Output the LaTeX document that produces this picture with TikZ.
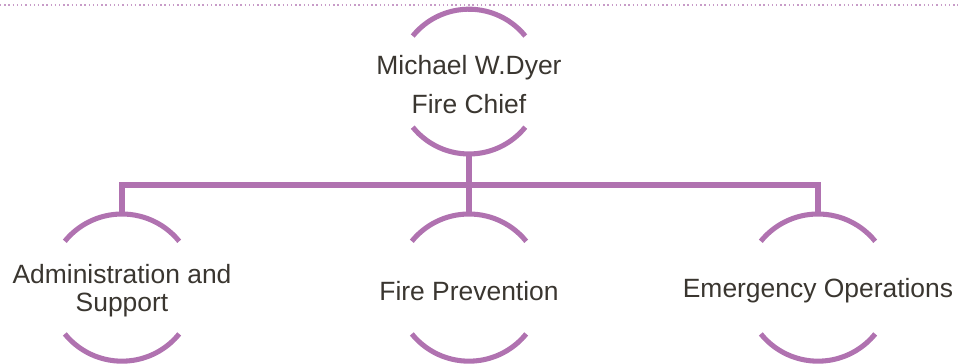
\documentclass[tikz,border=0pt]{standalone}
\usepackage{fontspec}
\setmainfont{Liberation Sans}
\usetikzlibrary{positioning,calc}
\definecolor{orchid}{HTML}{B072B0}
\definecolor{ink}{HTML}{3A3630}
\tikzset{
ring/.style={
circle,
minimum size=3.68cm,inner sep=0pt,outer sep=0pt},
caption/.style={align=center,text=ink,inner sep=0pt,yshift=-0.08cm},
link/.style={draw=orchid,line width=3.6pt},
font={\fontsize{18.8pt}{19.5pt}\selectfont}
}

\begin{document}
\begin{tikzpicture}
  \useasboundingbox (0,0) rectangle (23.95,9.1);
  \draw[orchid!70,line width=1pt,dotted] (0,8.975) -- (23.95,8.975);
  \node[ring,minimum size=3.62cm] (chief) at (11.725,7.06) {};
  \node[ring] (prev) at (11.725,1.91) {};
  \node[ring] (admin) at (3.05,1.91) {};
  \node[ring] (ops) at (20.45,1.91) {};
  \node[caption] (chieftxt) at (chief) {Michael W.Dyer\\[8pt]Fire Chief};
  \node[caption] (prevtxt) at (prev) {Fire Prevention};
  \node[caption] (admintxt) at (admin) {Administration and\\Support};
  \node[caption] (opstxt) at (ops) {Emergency Operations};
  % open arcs above and below each ring
  \foreach \n/\r in {chief/1.81,prev/1.84,admin/1.84,ops/1.84}{
    \draw[link] (\n.39) arc[start angle=39,end angle=141,radius=\r];
    \draw[link] (\n.219) arc[start angle=219,end angle=321,radius=\r];
  }
  \coordinate (bar) at (0,4.475);
  \draw[link] (admin.north) -- (admin.north |- bar) -- (ops.north |- bar) -- (ops.north);
  \draw[link] (chief.south) -- (prev.north);
\end{tikzpicture}
\end{document}
